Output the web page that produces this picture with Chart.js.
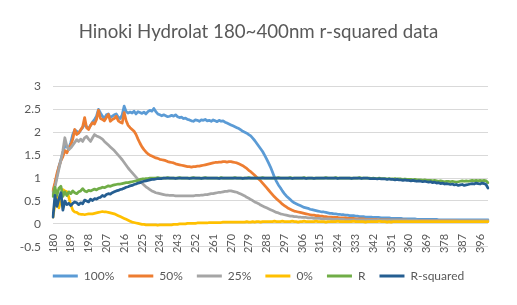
<!DOCTYPE html>
<html><head><meta charset="utf-8">
<script src="https://cdn.jsdelivr.net/npm/chart.js@4"></script>
<style>html,body{margin:0;padding:0;background:#fff}</style>
</head><body>
<canvas id="c" width="517" height="305"></canvas>
<script>
const chartTitle = 'Hinoki Hydrolat 180~400nm r-squared data';
// wavelength categories 180..400 nm, 1 nm step
const wavelengths = [];
for (let w = 180; w <= 400; w++) wavelengths.push(String(w));
const tickEvery = 9;
const seriesNames = ['100%', '50%', '25%', '0%', 'R', 'R-squared'];

const s100 = [
 0.70,0.85,1.05,1.25,1.40,1.55,1.72,1.68,1.65,1.78,
 1.95,2.05,2.02,1.98,2.05,2.10,2.18,2.12,2.08,2.15,
 2.22,2.28,2.35,2.50,2.42,2.35,2.30,2.38,2.40,2.32,
 2.35,2.38,2.40,2.33,2.30,2.38,2.57,2.45,2.42,2.44,
 2.42,2.46,2.40,2.45,2.43,2.41,2.44,2.40,2.45,2.48,
 2.46,2.52,2.45,2.40,2.38,2.36,2.38,2.36,2.34,2.35,
 2.37,2.35,2.38,2.34,2.32,2.33,2.30,2.31,2.28,2.27,
 2.25,2.24,2.27,2.26,2.24,2.27,2.26,2.28,2.25,2.26,
 2.24,2.27,2.25,2.23,2.26,2.24,2.25,2.22,2.20,2.18,
 2.16,2.14,2.12,2.10,2.08,2.05,2.02,2.00,1.98,1.95,
 1.92,1.87,1.82,1.76,1.70,1.64,1.58,1.50,1.42,1.33,
 1.24,1.13,1.02,0.93,0.85,0.79,0.72,0.66,0.61,0.57,
 0.53,0.49,0.46,0.44,0.42,0.40,0.38,0.36,0.35,0.34,
 0.32,0.31,0.30,0.29,0.28,0.27,0.26,0.26,0.25,0.24,
 0.23,0.23,0.22,0.22,0.21,0.21,0.20,0.20,0.19,0.19,
 0.18,0.18,0.18,0.17,0.17,0.16,0.16,0.16,0.15,0.15,
 0.15,0.15,0.14,0.14,0.14,0.14,0.13,0.13,0.13,0.13,
 0.13,0.12,0.12,0.12,0.12,0.12,0.12,0.11,0.11,0.11,
 0.11,0.11,0.11,0.11,0.10,0.10,0.10,0.10,0.10,0.10,
 0.10,0.10,0.10,0.10,0.10,0.09,0.09,0.09,0.09,0.09,
 0.09,0.09,0.09,0.09,0.09,0.09,0.09,0.09,0.09,0.09,
 0.09,0.09,0.09,0.09,0.09,0.09,0.09,0.09,0.09,0.09,
 0.09];

const s50 = [
 0.72,0.90,1.10,1.25,1.38,1.47,1.60,1.55,1.65,1.72,
 1.85,2.06,1.95,1.99,2.05,2.12,2.32,2.10,2.06,2.15,
 2.21,2.18,2.28,2.48,2.30,2.28,2.25,2.32,2.39,2.24,
 2.28,2.30,2.35,2.25,2.22,2.20,2.43,2.25,2.15,2.10,
 2.06,2.02,1.95,1.85,1.76,1.68,1.62,1.57,1.53,1.50,
 1.48,1.46,1.44,1.43,1.41,1.40,1.39,1.38,1.36,1.35,
 1.34,1.33,1.31,1.30,1.29,1.28,1.27,1.26,1.25,1.25,
 1.24,1.25,1.25,1.26,1.26,1.27,1.28,1.29,1.30,1.31,
 1.32,1.33,1.34,1.34,1.35,1.35,1.36,1.36,1.35,1.36,
 1.36,1.35,1.34,1.33,1.31,1.29,1.27,1.24,1.21,1.17,
 1.14,1.10,1.06,1.02,0.98,0.94,0.89,0.84,0.79,0.74,
 0.69,0.64,0.59,0.55,0.51,0.47,0.43,0.40,0.37,0.34,
 0.32,0.30,0.28,0.27,0.26,0.25,0.24,0.23,0.22,0.21,
 0.20,0.19,0.19,0.18,0.18,0.17,0.17,0.16,0.16,0.15,
 0.15,0.15,0.14,0.14,0.14,0.13,0.13,0.13,0.13,0.12,
 0.12,0.12,0.12,0.11,0.11,0.11,0.11,0.11,0.10,0.10,
 0.10,0.10,0.10,0.10,0.09,0.09,0.09,0.09,0.09,0.09,
 0.09,0.08,0.08,0.08,0.08,0.08,0.08,0.08,0.08,0.08,
 0.07,0.07,0.07,0.07,0.07,0.07,0.07,0.07,0.07,0.07,
 0.07,0.07,0.07,0.07,0.07,0.07,0.07,0.07,0.07,0.07,
 0.07,0.07,0.07,0.07,0.07,0.06,0.06,0.06,0.06,0.06,
 0.06,0.06,0.06,0.06,0.06,0.06,0.06,0.06,0.06,0.06,
 0.06];

const s25 = [
 0.65,0.80,1.00,1.20,1.39,1.60,1.88,1.70,1.62,1.66,
 1.72,1.78,1.84,1.80,1.85,1.80,1.88,1.91,1.85,1.80,
 1.88,1.95,1.92,1.90,1.88,1.85,1.80,1.76,1.72,1.68,
 1.64,1.60,1.55,1.50,1.45,1.40,1.34,1.28,1.22,1.17,
 1.12,1.07,1.02,0.97,0.93,0.89,0.85,0.81,0.78,0.75,
 0.72,0.70,0.68,0.67,0.66,0.65,0.64,0.63,0.63,0.62,
 0.62,0.62,0.61,0.61,0.61,0.61,0.61,0.61,0.61,0.61,
 0.61,0.61,0.62,0.62,0.62,0.63,0.63,0.64,0.64,0.65,
 0.66,0.66,0.67,0.68,0.69,0.69,0.70,0.71,0.71,0.72,
 0.72,0.71,0.70,0.69,0.67,0.65,0.63,0.61,0.58,0.56,
 0.53,0.51,0.48,0.46,0.44,0.41,0.39,0.37,0.35,0.33,
 0.31,0.29,0.27,0.25,0.24,0.22,0.21,0.20,0.19,0.18,
 0.17,0.17,0.16,0.16,0.15,0.15,0.14,0.14,0.14,0.13,
 0.13,0.13,0.12,0.12,0.12,0.12,0.11,0.11,0.11,0.11,
 0.11,0.10,0.10,0.10,0.10,0.10,0.10,0.10,0.09,0.09,
 0.09,0.09,0.09,0.09,0.09,0.09,0.09,0.09,0.09,0.09,
 0.09,0.09,0.09,0.09,0.08,0.08,0.08,0.08,0.08,0.08,
 0.08,0.08,0.08,0.08,0.08,0.08,0.08,0.08,0.08,0.08,
 0.08,0.08,0.08,0.08,0.08,0.07,0.07,0.07,0.07,0.07,
 0.07,0.07,0.07,0.07,0.07,0.07,0.07,0.07,0.07,0.07,
 0.07,0.07,0.07,0.07,0.07,0.07,0.07,0.07,0.07,0.07,
 0.07,0.07,0.07,0.07,0.07,0.07,0.07,0.07,0.07,0.07,
 0.07];

const s0 = [
 0.15,0.45,0.62,0.35,0.55,0.75,0.72,0.70,0.58,0.42,
 0.30,0.26,0.25,0.22,0.21,0.21,0.20,0.21,0.22,0.22,
 0.22,0.23,0.24,0.25,0.26,0.27,0.26,0.26,0.25,0.24,
 0.23,0.22,0.20,0.18,0.16,0.14,0.12,0.10,0.08,0.06,
 0.04,0.03,0.02,0.01,0.00,-0.01,-0.01,-0.02,-0.02,-0.02,
 -0.02,-0.02,-0.02,-0.03,-0.02,-0.02,-0.02,-0.02,-0.02,-0.02,
 -0.02,-0.01,-0.01,-0.01,0.00,0.00,0.00,0.00,0.01,0.01,
 0.01,0.01,0.01,0.02,0.02,0.02,0.02,0.02,0.02,0.03,
 0.03,0.03,0.03,0.03,0.03,0.03,0.04,0.04,0.04,0.04,
 0.04,0.04,0.04,0.04,0.04,0.04,0.04,0.04,0.05,0.04,
 0.04,0.05,0.04,0.05,0.05,0.04,0.05,0.05,0.05,0.05,
 0.05,0.05,0.06,0.05,0.05,0.05,0.06,0.05,0.05,0.05,
 0.05,0.06,0.05,0.05,0.04,0.05,0.05,0.06,0.05,0.05,
 0.05,0.05,0.05,0.06,0.05,0.05,0.05,0.05,0.04,0.05,
 0.05,0.05,0.05,0.05,0.06,0.05,0.05,0.05,0.05,0.05,
 0.05,0.05,0.06,0.05,0.05,0.05,0.05,0.05,0.04,0.05,
 0.05,0.05,0.05,0.05,0.05,0.06,0.05,0.05,0.05,0.04,
 0.05,0.04,0.05,0.05,0.05,0.05,0.05,0.05,0.05,0.05,
 0.05,0.05,0.05,0.05,0.05,0.05,0.05,0.05,0.05,0.05,
 0.05,0.05,0.05,0.05,0.05,0.05,0.05,0.05,0.05,0.05,
 0.05,0.05,0.05,0.05,0.05,0.05,0.05,0.05,0.05,0.05,
 0.05,0.05,0.05,0.05,0.05,0.05,0.05,0.05,0.05,0.05,
 0.05];

const sR = [
 0.60,0.80,0.62,0.78,0.82,0.60,0.70,0.62,0.70,0.66,
 0.72,0.68,0.66,0.70,0.72,0.77,0.72,0.70,0.73,0.72,
 0.74,0.76,0.74,0.77,0.78,0.80,0.79,0.81,0.83,0.82,
 0.84,0.85,0.86,0.87,0.87,0.88,0.89,0.90,0.90,0.91,
 0.92,0.93,0.94,0.95,0.97,0.98,0.98,0.99,0.99,1.00,
 1.00,1.00,1.00,1.01,1.00,1.00,1.00,1.00,1.01,1.00,
 1.00,1.00,1.00,1.00,1.01,1.00,1.00,1.00,1.00,1.00,
 1.00,1.01,1.00,1.00,1.00,1.00,1.00,1.01,1.00,1.00,
 1.00,1.00,1.00,1.00,1.00,1.01,1.00,1.00,1.00,1.00,
 1.00,1.00,1.01,1.00,1.00,1.00,1.00,1.00,1.00,1.01,
 1.00,1.00,1.00,1.00,1.00,1.00,1.01,1.00,1.00,1.00,
 1.00,1.00,1.00,1.00,1.01,1.00,1.00,1.00,1.00,1.00,
 1.01,1.00,1.00,1.00,1.00,1.00,1.00,1.01,1.00,1.00,
 1.00,1.00,1.00,1.00,1.00,1.00,1.00,1.00,1.01,1.00,
 1.00,1.00,1.00,1.01,1.00,1.00,1.00,1.00,1.00,1.00,
 1.00,1.00,1.00,1.00,1.00,1.01,1.00,1.00,1.00,1.00,
 1.00,0.99,1.00,0.99,0.99,1.00,0.99,0.99,0.99,0.98,
 0.99,0.98,0.98,0.99,0.98,0.98,0.98,0.97,0.98,0.97,
 0.97,0.97,0.96,0.97,0.96,0.96,0.96,0.95,0.96,0.95,
 0.95,0.95,0.94,0.95,0.94,0.93,0.94,0.93,0.92,0.93,
 0.93,0.92,0.93,0.92,0.91,0.92,0.93,0.94,0.93,0.94,
 0.93,0.94,0.95,0.94,0.95,0.94,0.95,0.94,0.95,0.94,
 0.90];

const sR2 = [
 0.15,0.62,0.38,0.55,0.68,0.30,0.50,0.42,0.45,0.40,
 0.45,0.48,0.46,0.42,0.46,0.44,0.52,0.50,0.48,0.54,
 0.51,0.55,0.54,0.57,0.58,0.62,0.60,0.64,0.66,0.65,
 0.68,0.70,0.72,0.73,0.75,0.76,0.78,0.80,0.81,0.83,
 0.84,0.86,0.87,0.89,0.90,0.92,0.93,0.94,0.95,0.96,
 0.97,0.97,0.98,0.99,0.99,0.99,1.00,1.00,1.00,1.00,
 1.00,1.00,0.99,1.00,1.00,1.00,1.00,1.00,1.00,0.99,
 1.00,1.00,1.00,1.00,1.00,0.99,1.00,1.00,1.00,1.00,
 1.00,1.00,1.00,1.00,0.99,1.00,1.00,1.00,1.00,1.00,
 1.00,1.00,1.00,1.00,1.00,1.00,0.99,1.00,1.00,1.00,
 1.00,1.00,1.00,1.00,1.00,1.00,1.00,1.00,1.00,1.00,
 1.00,1.00,1.00,1.00,1.00,1.00,1.00,1.00,1.00,1.00,
 1.00,0.99,1.00,1.00,1.00,1.00,1.00,1.00,0.99,1.00,
 1.00,1.00,0.99,1.00,1.00,1.00,1.00,1.00,1.00,1.00,
 1.00,1.00,1.00,1.00,0.99,1.00,1.00,1.00,1.00,1.00,
 1.00,0.99,1.00,1.00,1.00,1.00,0.99,1.00,1.00,1.00,
 0.99,0.99,0.99,0.99,0.98,0.99,0.98,0.98,0.98,0.97,
 0.98,0.97,0.97,0.96,0.97,0.96,0.96,0.95,0.96,0.95,
 0.95,0.94,0.95,0.94,0.93,0.94,0.93,0.92,0.93,0.92,
 0.91,0.92,0.90,0.91,0.89,0.90,0.88,0.89,0.87,0.88,
 0.87,0.86,0.87,0.85,0.86,0.84,0.85,0.86,0.84,0.85,
 0.86,0.87,0.88,0.87,0.89,0.88,0.87,0.89,0.88,0.86,
 0.78];

const seriesData = [s100, s50, s25, s0, sR, sR2];
const seriesColors = ['#5B9BD5', '#ED7D31', '#A5A5A5', '#FFC000', '#70AD47', '#255E91'];

const datasets = seriesNames.map((name, i) => ({
  label: name,
  data: seriesData[i],
  borderColor: seriesColors[i],
  backgroundColor: seriesColors[i],
  borderWidth: 2.75,
  pointRadius: 0,
  tension: 0,
  fill: false,
  order: seriesNames.length - i
}));

const textColor = '#595959';
const fontFamily = 'Lato, "Open Sans", sans-serif';

new Chart(document.getElementById('c'), {
  type: 'line',
  data: { labels: wavelengths, datasets },
  options: {
    responsive: false,
    animation: false,
    devicePixelRatio: 1,
    layout: { padding: { left: 0, right: 0, top: 0, bottom: 13 } },
    elements: { line: { borderJoinStyle: 'round', borderCapStyle: 'round' } },
    scales: {
      x: {
        position: { y: 0 },
        grid: { display: false, drawTicks: false },
        border: { display: false },
        ticks: {
          autoSkip: false, maxRotation: 90, minRotation: 90, padding: 10,
          color: textColor, font: { family: fontFamily, size: 11 },
          callback: (v, i) => (i % tickEvery === 0 ? wavelengths[i] : null)
        }
      },
      y: {
        min: -0.5, max: 3,
        ticks: {
          stepSize: 0.5, padding: 12, color: textColor, font: { family: fontFamily, size: 12 },
          callback: v => String(Number(v))
        },
        grid: { color: '#d9d9d9', lineWidth: 1, drawTicks: false },
        border: { display: false },
        afterFit: s => { s.width = 53; }
      },
      rightSpace: {
        type: 'linear', position: 'right', display: true,
        grid: { display: false, drawTicks: false },
        border: { display: false },
        ticks: { display: false },
        afterFit: s => { s.width = 29; }
      }
    },
    plugins: {
      title: {
        display: true, text: chartTitle, color: textColor,
        font: { family: fontFamily, size: 18.7, weight: 'normal' },
        padding: { top: 21, bottom: 43 }
      },
      legend: {
        position: 'bottom',
        title: { display: true, text: '', font: { size: 1 }, padding: { top: 0, bottom: 8 } },
        labels: {
          boxWidth: 25, boxHeight: 3, padding: 14, color: textColor,
          font: { family: fontFamily, size: 12 },
          sort: (a, b) => a.datasetIndex - b.datasetIndex,
          generateLabels: chart => Chart.defaults.plugins.legend.labels.generateLabels(chart)
            .map(l => Object.assign(l, { lineWidth: 0 }))
        }
      },
      tooltip: { enabled: false }
    }
  }
});
</script>
</body></html>
